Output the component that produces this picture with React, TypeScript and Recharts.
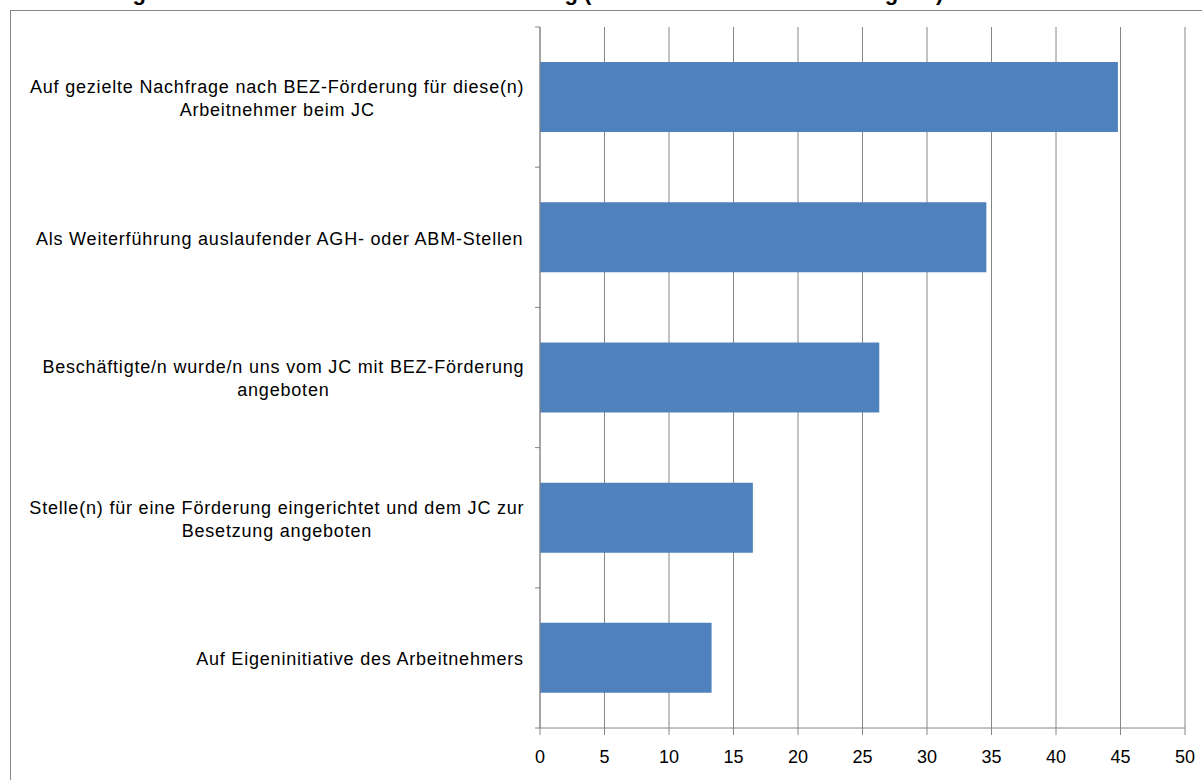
import { BarChart, Bar, XAxis, YAxis, CartesianGrid } from "recharts";

const categories = [
  "Auf gezielte Nachfrage nach BEZ-Förderung für diese(n)\nArbeitnehmer beim JC",
  "Als Weiterführung auslaufender AGH- oder ABM-Stellen",
  "Beschäftigte/n wurde/n uns vom JC mit BEZ-Förderung\nangeboten",
  "Stelle(n) für eine Förderung eingerichtet und dem JC zur\nBesetzung angeboten",
  "Auf Eigeninitiative des Arbeitnehmers",
];
const shares = [44.8, 34.6, 26.3, 16.5, 13.3];
const xTicks = [0, 5, 10, 15, 20, 25, 30, 35, 40, 45, 50];
const title = "Wege der Arbeitnehmer in die BEZ-Förderung (Mehrfachantworten sind möglich)";

const data = categories.map((name, i) => ({ name, value: shares[i] }));

const W = 1202;
const H = 780;
const MARGIN = { top: 27, right: 17, bottom: 0, left: 0 };
const X_AXIS_H = 52;
const Y_AXIS_W = 540;
const PLOT_H = H - MARGIN.top - MARGIN.bottom - X_AXIS_H;
const BAND = PLOT_H / categories.length;
const AXIS_GRAY = "#868686";
const FONT = "'Liberation Sans', Arial, sans-serif";
const LABEL_SIZE = 18;
const LABEL_SPACING = 0.8;
const TICK_MARGIN = 16;

let ctx: CanvasRenderingContext2D | null = null;
function measure(s: string) {
  if (!ctx) ctx = document.createElement("canvas").getContext("2d");
  if (!ctx) return s.length * 9;
  ctx.font = `${LABEL_SIZE}px 'Liberation Sans'`;
  return ctx.measureText(s).width + LABEL_SPACING * (s.length - 1);
}

function CategoryTick(props: any) {
  const { x, y, payload, index } = props;
  const lines = String(payload.value).split("\n");
  const block = Math.max(...lines.map(measure));
  const cx = x - block / 2;
  const lh = 23;
  const y0 = y - ((lines.length - 1) * lh) / 2 + 1;
  const axisX = x + TICK_MARGIN;
  return (
    <g>
      <line x1={axisX - 5} x2={axisX} y1={y - BAND / 2} y2={y - BAND / 2} stroke={AXIS_GRAY} />
      {index === categories.length - 1 && (
        <line x1={axisX - 5} x2={axisX} y1={y + BAND / 2} y2={y + BAND / 2} stroke={AXIS_GRAY} />
      )}
      {lines.map((l, i) => (
        <text
          key={i}
          x={cx}
          y={y0 + i * lh}
          dy="0.36em"
          textAnchor="middle"
          fontSize={LABEL_SIZE}
          fontFamily={FONT}
          letterSpacing={LABEL_SPACING}
          fill="#000"
        >
          {l}
        </text>
      ))}
    </g>
  );
}

export default function App() {
  return (
    <div style={{ position: "absolute", left: 0, top: 0, width: W, height: H, overflow: "hidden", background: "#fff" }}>
      <div
        style={{
          position: "absolute",
          left: 10,
          top: 10,
          width: 1400,
          height: 1000,
          border: `1px solid ${AXIS_GRAY}`,
        }}
      />
      <svg width={W} height={20} style={{ position: "absolute", left: 0, top: 0 }}>
        <text x={100} y={0} fontSize={22} fontWeight="bold" fontFamily={FONT} fill="#000">
          {title}
        </text>
      </svg>
      <div style={{ position: "absolute", left: 0, top: 0 }}>
        <BarChart
          width={W}
          height={H}
          data={data}
          layout="vertical"
          margin={MARGIN}
          barCategoryGap="25%"
        >
          <CartesianGrid horizontal={false} stroke={AXIS_GRAY} />
          <XAxis
            type="number"
            domain={[0, 50]}
            ticks={xTicks}
            interval={0}
            height={X_AXIS_H}
            axisLine={{ stroke: AXIS_GRAY }}
            tickLine={{ stroke: AXIS_GRAY }}
            tickSize={7}
            tickMargin={15}
            tick={{ fill: "#000", fontSize: 18, fontFamily: FONT }}
          />
          <YAxis
            dataKey="name"
            type="category"
            width={Y_AXIS_W}
            interval={0}
            axisLine={{ stroke: AXIS_GRAY }}
            tickLine={false}
            tickSize={0}
            tickMargin={TICK_MARGIN}
            tick={<CategoryTick />}
          />
          <Bar dataKey="value" fill="#4F81BD" isAnimationActive={false} />
        </BarChart>
      </div>
    </div>
  );
}
